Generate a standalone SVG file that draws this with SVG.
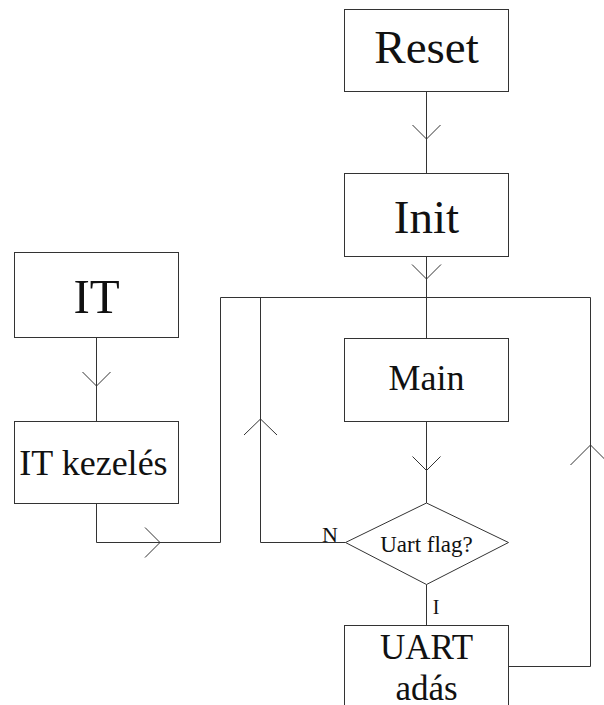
<svg xmlns="http://www.w3.org/2000/svg" width="604" height="705" viewBox="0 0 604 705">
<style>
.box{fill:#fff;stroke:#333;stroke-width:1}
.ln{fill:none;stroke:#333;stroke-width:1}
.t{font-family:'Times New Roman','Liberation Serif',serif;fill:#111;text-anchor:middle}
</style>
<rect width="604" height="705" fill="#fff"/>
<g id="connectors">
<path class="ln" d="M426.5 91V173"/>
<path class="ln" d="M412.5 125L426.5 139L440.5 125"/>
<path class="ln" d="M426.5 256V338"/>
<path class="ln" d="M412 264.5L426.5 279L441 264.5"/>
<path class="ln" d="M220.5 297.5H590.5"/>
<path class="ln" d="M426.5 422V503"/>
<path class="ln" d="M412.5 456.5L426.5 470.5L440.5 456.5"/>
<path class="ln" d="M96.5 338V421"/>
<path class="ln" d="M82.5 372L96.5 386L110.5 372"/>
<path class="ln" d="M96.5 503V542.5H220.5V297.5"/>
<path class="ln" d="M145 527.5L160 542.5L145 557.5"/>
<path class="ln" d="M345.5 542.5H260.5V297.5"/>
<path class="ln" d="M244 435L260.5 419L277 435"/>
<path class="ln" d="M426.5 584.5V626"/>
<path class="ln" d="M508.5 666.5H590.5V297.5"/>
<path class="ln" d="M570.5 465L590.5 445L610.5 465"/>
<text class="t" x="330" y="541.5" font-size="22">N</text>
<text class="t" x="436" y="614" font-size="20">I</text>
</g>
<g id="reset"><rect class="box" x="344.5" y="9.5" width="164" height="82"/><text class="t" x="426.5" y="63" font-size="47">Reset</text></g>
<g id="init"><rect class="box" x="344.5" y="173.5" width="164" height="83"/><text class="t" x="426.5" y="233" font-size="47">Init</text></g>
<g id="it"><rect class="box" x="14.5" y="252.5" width="164" height="85"/><text class="t" x="96.5" y="313" font-size="49">IT</text></g>
<g id="itkezeles"><rect class="box" x="14.5" y="421.5" width="164" height="82"/><text class="t" x="93.5" y="475" font-size="36">IT kezelés</text></g>
<g id="main"><rect class="box" x="344.5" y="338.5" width="164" height="83"/><text class="t" x="426.5" y="390" font-size="36">Main</text></g>
<g id="uartflag"><path class="box" d="M426.5 503L508.5 542.5L426.5 584.5L345.5 542.5Z"/><text class="t" x="426.5" y="552" font-size="23">Uart flag?</text></g>
<g id="uartadas"><rect class="box" x="344.5" y="625.5" width="164" height="120"/><text class="t" x="426.5" y="659" font-size="35">UART</text><text class="t" x="426.5" y="700" font-size="35">adás</text></g>
</svg>
